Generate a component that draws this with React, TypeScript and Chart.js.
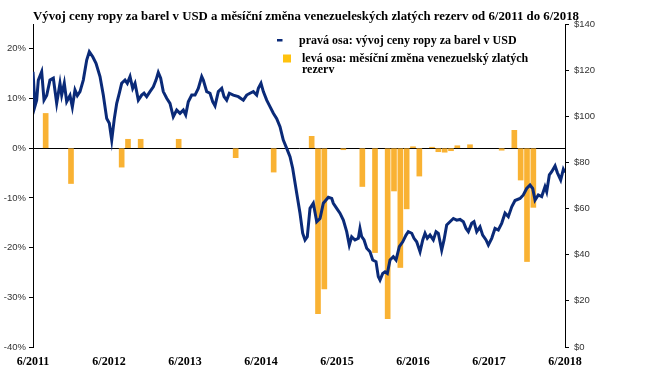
import React, { useEffect, useRef } from 'react';
import { Chart, registerables } from 'chart.js';

Chart.register(...registerables);

const titleText = 'Vývoj ceny ropy za barel v USD a měsíční změna venezueleských zlatých rezerv od 6/2011 do 6/2018';
const legendLineText = 'pravá osa: vývoj ceny ropy za barel v USD';
const legendBarText = ['levá osa: měsíční změna venezuelský zlatých', 'rezerv'];

const xLabels = ['6/2011', '6/2012', '6/2013', '6/2014', '6/2015', '6/2016', '6/2017', '6/2018'];
const leftTicks = [-40, -30, -20, -10, 0, 10, 20];
const rightTicks = [0, 20, 40, 60, 80, 100, 120, 140];

// monthly change of Venezuelan gold reserves (%), months since 6/2011 (0..84); null = no bar
const reserveChange: (number | null)[] = [
  null, null, 7.0, null, null, null, -7.1, null, null, null, null, null,
  null, null, -3.8, 1.8, null, 1.8, null, null, null, null, null, 1.8,
  null, null, null, null, null, null, null, null, -1.9, null, null, null,
  null, null, -4.8, null, null, null, null, null, 2.4, -33.3, -28.3, null,
  null, -0.3, null, null, -7.7, null, -21, null, -34.3, -8.6, -24, -12.2,
  0.3, -5.6, null, 0.2, -0.7, -0.8, -0.5, 0.5, null, 0.7, null, null,
  null, null, -0.4, null, 3.6, -6.4, -22.8, -11.9, null, null, null, null,
  null,
];

// oil price (USD per barrel), time in months since 6/2011
const oilMonth = [
  0, 0.32, 0.58, 0.84, 1.37, 1.74, 2.16, 2.68, 3.21, 3.74, 4.26, 4.53, 4.94, 5.32, 5.84, 6.21, 6.63, 7.0, 7.42, 7.94,
  8.48, 8.89, 9.43, 9.95, 10.58, 11.1, 11.64, 12.05, 12.43, 12.84, 13.22, 13.63, 14.0, 14.53, 14.89, 15.32, 15.74, 16.11, 16.63, 17.16,
  17.53, 17.95, 18.47, 19.0, 19.42, 19.78, 20.16, 20.57, 21.11, 21.63, 22.15, 22.69, 23.21, 23.73, 24.11, 24.52, 25.06, 25.58, 26.1, 26.64,
  26.89, 27.43, 27.95, 28.37, 28.74, 29.26, 29.8, 30.16, 30.58, 31.0, 31.63, 32.42, 33.21, 33.74, 34.26, 34.79, 35.32, 35.58, 36.0, 36.37,
  36.9, 37.42, 37.95, 38.48, 39.0, 39.52, 40.06, 40.58, 41.0, 41.64, 42.16, 42.58, 42.95, 43.31, 43.74, 44.26, 44.8, 45.32, 45.84, 46.63,
  47.17, 47.42, 47.95, 48.47, 49.0, 49.53, 49.94, 50.32, 50.84, 51.37, 51.63, 51.9, 52.27, 52.69, 53.21, 53.64, 54.16, 54.52, 54.79, 55.22,
  55.58, 55.95, 56.37, 56.89, 57.32, 57.84, 58.38, 58.9, 59.26, 59.8, 60.16, 60.58, 61.11, 61.54, 61.9, 62.26, 62.69, 63.21, 63.64, 64.0,
  64.53, 64.9, 65.32, 65.84, 66.37, 66.9, 67.42, 67.95, 68.37, 68.74, 69.27, 69.63, 70.06, 70.58, 71.0, 71.53, 71.9, 72.43, 72.95, 73.47,
  74.0, 74.53, 75.05, 75.59, 76.11, 76.9, 77.42, 77.95, 78.48, 78.9, 79.27, 79.79, 80.32, 80.84, 81.11, 81.53, 81.9, 82.43, 82.79, 83.32,
  83.74, 84,
];
const oilPrice = [
  119.3, 104.5, 107, 115.7, 119.3, 107, 109, 115.7, 116.5, 105.6, 114.3, 109.2, 114.3, 106.3, 109, 104, 111.4, 109, 110.7, 115.7,
  124.4, 128, 125.8, 123, 117.2, 109.2, 99, 97, 89.7, 99, 105.6, 110, 114.3, 115.7, 114.3, 117.2, 112.1, 114.3, 107, 109.2,
  110, 108.5, 110.7, 112.8, 115.7, 119, 116.5, 110.7, 107.8, 105.6, 99.8, 102.7, 101.3, 102.7, 100.6, 106.3, 109.2, 109.2, 112.1, 117.2,
  115.7, 110.7, 110, 106.3, 104.5, 110.7, 112.1, 108.5, 107, 110, 109.2, 108.5, 107, 109.2, 110, 110.7, 109.2, 112.1, 114.3, 110.7,
  107, 104.2, 101.3, 99, 95.5, 89.7, 86.1, 82.5, 77.5, 66.6, 58, 49.3, 46.4, 47.8, 60.1, 62.3, 54.3, 55.7, 62.3, 64.9,
  64.4, 62.3, 60.1, 58, 55, 50, 44.2, 47.8, 46.4, 47.1, 51.4, 47.8, 46.4, 42.8, 41.3, 37.7, 37, 30.5, 29, 31.9,
  32.6, 31.9, 37.7, 39.1, 37.7, 43.5, 45.6, 48.5, 50, 49.3, 47.1, 45.6, 41.3, 46.4, 49.3, 47.1, 48.5, 46.4, 50, 49.3,
  42, 46.4, 52.9, 54.3, 55.7, 55, 55.3, 54.3, 51.4, 50, 53.6, 54.3, 50, 52.1, 48.5, 46.4, 44.2, 47.1, 51.4, 50.7,
  53.6, 58, 56.5, 60.8, 63.5, 64.4, 65.9, 68.7, 70.2, 68.7, 63.7, 65.9, 65.2, 69.5, 67.3, 74.6, 76, 78.5, 75.6, 72.4,
  77, 75.6,
];

const NAVY = '#0a2a78';
const BAR = '#F9B233';
const LEGEND_YELLOW = '#FFC20E';

const overlayPlugin = {
  id: 'overlayText',
  afterDraw(chart: any) {
    const ctx = chart.ctx;
    ctx.save();
    // title (condensed to its width in the reference)
    ctx.font = 'bold 13px "Liberation Serif"';
    ctx.fillStyle = '#000';
    ctx.textBaseline = 'alphabetic';
    ctx.textAlign = 'left';
    const w = ctx.measureText(titleText).width;
    const target = 546;
    ctx.save();
    ctx.translate(33, 20);
    ctx.scale(target / w, 1);
    ctx.fillText(titleText, 0, 0);
    ctx.restore();

    // legend
    ctx.fillStyle = NAVY;
    ctx.fillRect(277, 39, 5.5, 2.5);
    ctx.fillStyle = LEGEND_YELLOW;
    ctx.fillRect(283, 54.5, 8, 8);
    ctx.fillStyle = '#000';
    ctx.font = 'bold 12px "Liberation Serif"';
    ctx.fillText(legendLineText, 299, 44);
    ctx.fillText(legendBarText[0], 302, 61.5);
    ctx.fillText(legendBarText[1], 302, 73);
    ctx.restore();
  },
};

export default function App() {
  const ref = useRef<HTMLCanvasElement | null>(null);

  useEffect(() => {
    document.body.style.margin = '0';
    const canvas = ref.current;
    if (!canvas) return;
    const tickFont = { family: '"Liberation Sans", Arial, sans-serif', size: 9.5 };
    const chart = new Chart(canvas, {
      type: 'bar',
      data: {
        datasets: [
          {
            type: 'line',
            label: legendLineText,
            data: oilMonth.map((m, i) => ({ x: m, y: oilPrice[i] })),
            xAxisID: 'x',
            yAxisID: 'y2',
            borderColor: NAVY,
            borderWidth: 3,
            pointRadius: 0,
            tension: 0,
            fill: false,
            order: 0,
          } as any,
          {
            type: 'bar',
            label: legendBarText.join(' '),
            data: reserveChange.map((v, i) => ({ x: i, y: v })),
            xAxisID: 'x',
            yAxisID: 'y',
            backgroundColor: BAR,
            barThickness: 5,
            order: 1,
          } as any,
        ],
      },
      options: {
        responsive: false,
        animation: false,
        devicePixelRatio: 1,
        layout: { padding: { top: 24, left: 0, right: 0, bottom: 0 } },
        plugins: {
          legend: { display: false },
          tooltip: { enabled: false },
          title: { display: false },
        },
        scales: {
          x: {
            type: 'linear',
            position: 'bottom',
            offset: false,
            min: 0,
            max: 84,
            grid: { display: false, drawTicks: false, offset: false },
            border: { display: false },
            afterBuildTicks: (s: any) => {
              s.ticks = xLabels.map((_, i) => ({ value: i * 12 }));
            },
            afterFit: (s: any) => {
              s.height = 39;
            },
            ticks: {
              autoSkip: false,
              maxRotation: 0,
              minRotation: 0,
              padding: 8,
              color: '#000',
              font: { family: '"Liberation Serif", "Times New Roman", serif', size: 12, weight: 'bold' },
              callback: (v: any) => xLabels[Math.round(Number(v) / 12)] ?? '',
            },
          },
          y: {
            type: 'linear',
            position: 'left',
            min: -40,
            max: 25,
            afterBuildTicks: (s: any) => {
              s.ticks = leftTicks.map((v) => ({ value: v }));
            },
            afterFit: (s: any) => {
              s.width = 33;
            },
            border: { display: true, color: '#000', width: 1 },
            grid: {
              drawOnChartArea: true,
              color: (c: any) => (c.tick && c.tick.value === 0 ? '#000' : 'rgba(0,0,0,0)'),
              tickColor: '#000',
              tickLength: 4,
              lineWidth: 1,
            },
            ticks: {
              padding: 3,
              color: '#333',
              font: tickFont,
              callback: (v: any) => `${v}%`,
            },
          },
          y2: {
            type: 'linear',
            position: 'right',
            min: 0,
            max: 140,
            afterBuildTicks: (s: any) => {
              s.ticks = rightTicks.map((v) => ({ value: v }));
            },
            afterFit: (s: any) => {
              s.width = 84;
            },
            border: { display: true, color: '#000', width: 1 },
            grid: {
              drawOnChartArea: false,
              tickColor: '#000',
              tickLength: 4,
            },
            ticks: {
              padding: 5,
              color: '#333',
              font: tickFont,
              callback: (v: any) => `$${v}`,
            },
          },
        },
      } as any,
      plugins: [overlayPlugin],
    });
    return () => chart.destroy();
  }, []);

  return (
    <div style={{ width: 649, height: 386, background: '#fff' }}>
      <canvas ref={ref} width={649} height={386} />
    </div>
  );
}
